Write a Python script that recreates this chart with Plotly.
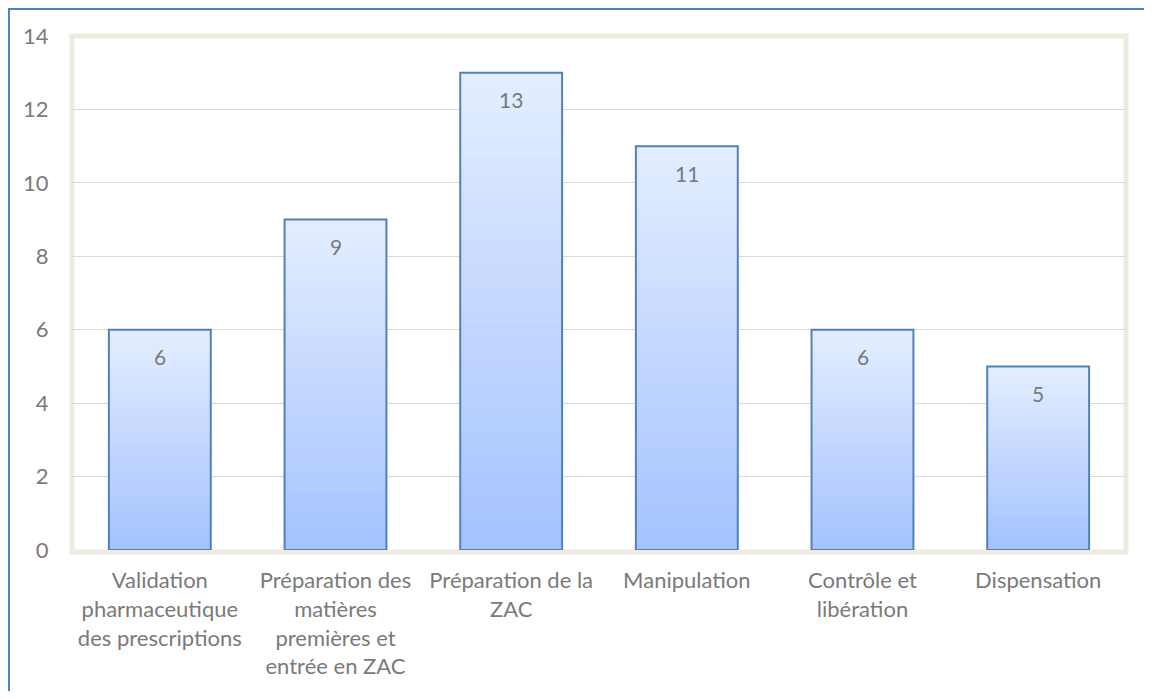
import plotly.graph_objects as go

categories = [
    "Validation<br>pharmaceutique<br>des prescriptions",
    "Préparation des<br>matières<br>premières et<br>entrée en ZAC",
    "Préparation de la<br>ZAC",
    "Manipulation",
    "Contrôle et<br>libération",
    "Dispensation",
]
values = [6, 9, 13, 11, 6, 5]
y_ticks = [0, 2, 4, 6, 8, 10, 12, 14]

FONT = "Lato"
TXT = "#7A7A7A"
top_rgb = (227, 237, 255)
bot_rgb = (164, 195, 255)
N = 40

fig = go.Figure()
# gradient: overlay bars of decreasing height, darker toward the bottom
for k in range(N):
    f = k / N
    t = k / (N - 1)
    col = "rgb(%d,%d,%d)" % tuple(round(a + (b - a) * t) for a, b in zip(top_rgb, bot_rgb))
    fig.add_trace(go.Bar(
        x=categories, y=[v * (1 - f) for v in values],
        marker=dict(color=col, line=dict(width=0)),
        hoverinfo="skip", showlegend=False,
    ))
# outline
fig.add_trace(go.Bar(
    x=categories, y=values,
    marker=dict(color="rgba(0,0,0,0)", line=dict(color="#4F81BD", width=2)),
    showlegend=False,
))

for c, v in zip(categories, values):
    fig.add_annotation(x=c, y=v, yshift=-27, text=str(v), showarrow=False,
                       font=dict(family=FONT, size=21, color=TXT))

# plot frame
fig.add_shape(type="rect", xref="paper", yref="paper", x0=0, x1=1, y0=-0.004, y1=1,
              line=dict(color="#EEECE1", width=5), layer="below")
# outer blue border (left and top edges visible)
fig.add_shape(type="path", xref="paper", yref="paper",
              path="M -0.0598,-0.5 L -0.0598,1.0523 L 1.3,1.0523",
              line=dict(color="#4F81BD", width=2))

fig.update_layout(
    width=1136, height=683,
    margin=dict(l=64, r=18, t=28, b=137),
    paper_bgcolor="white", plot_bgcolor="white",
    barmode="overlay", bargap=0.42,
    font=dict(family=FONT, size=22, color=TXT),
    xaxis=dict(showgrid=False, ticks="outside", ticklen=11, tickcolor="rgba(0,0,0,0)",
               tickfont=dict(family=FONT, size=22, color=TXT), showline=False),
    yaxis=dict(range=[0, 14], tickvals=y_ticks, showgrid=True, gridcolor="#D9D9D9", gridwidth=1,
               zeroline=False, ticks="outside", ticklen=18, tickcolor="rgba(0,0,0,0)",
               tickfont=dict(family=FONT, size=22, color=TXT), showline=False),
)

fig.write_html("out.html")
